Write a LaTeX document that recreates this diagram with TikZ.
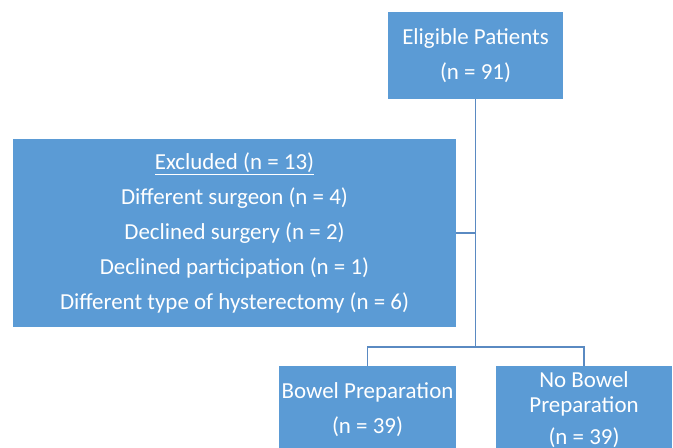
\documentclass[tikz,border=0pt]{standalone}
\usepackage{fontspec}
\setmainfont{Carlito}
\definecolor{boxblue}{HTML}{5B9BD5}
\definecolor{lineblue}{HTML}{5A8AC2}
\begin{document}
\begin{tikzpicture}[x=0.75pt, y=-0.75pt,
      stagebox/.style={
        % The shape:
        rectangle, inner sep=0pt, fill=boxblue,
        % The rest
        text=white, align=center,
        font=\fontsize{17.2}{26.25}\selectfont},
      link/.style={draw=lineblue, line width=1.1pt}]
    \useasboundingbox (0,0) rectangle (673,448);
    \clip (0,0) rectangle (673,448);
    \node(elig)[stagebox, minimum width=131.25pt, minimum height=65.25pt] at (475.5,55.5) {Eligible Patients\\(n = 91)};
    \node(excl)[stagebox, minimum width=332.25pt, minimum height=141pt] at (234.5,233) {\underline{Excluded (n = 13)}\\Different surgeon (n = 4)\\Declined surgery (n = 2)\\Declined participation (n = 1)\\Different type of hysterectomy (n = 6)};
    \node(prep)[stagebox, minimum width=132.75pt, minimum height=66pt] at (367.5,410) {Bowel Preparation\\(n = 39)};
    \node(noprep)[stagebox, minimum width=132pt, minimum height=66pt, font=\fontsize{17.2}{18.75}\selectfont] at (584,410) {No Bowel\\Preparation\\[5.25pt](n = 39)};
    \coordinate(split) at (475.5,347);
    \path[link] (elig.south) -- (split);
    \path[link] (excl.east) -- (excl.east -| elig.south);
    \path[link] (prep.north) |- (split) -| (noprep.north);
  \end{tikzpicture}
\end{document}
